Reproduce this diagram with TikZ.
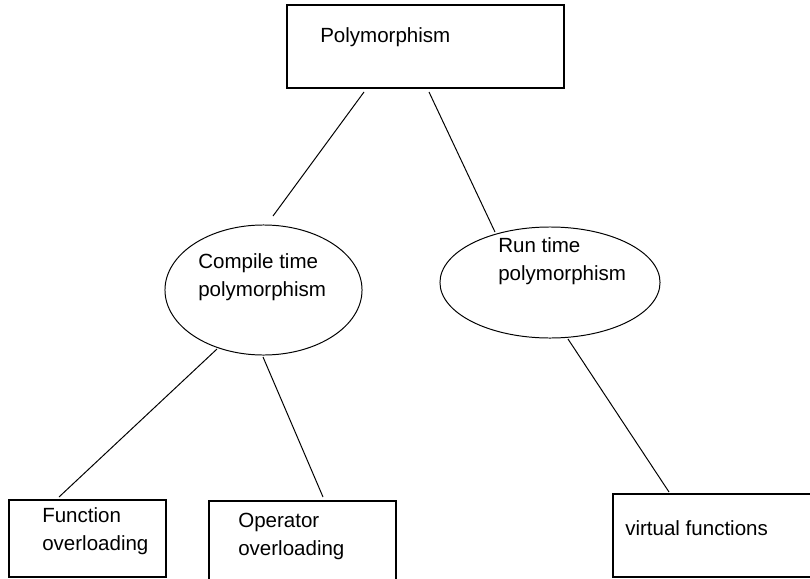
\documentclass[tikz,border=0pt]{standalone}
\usepackage{fontspec}
\setmainfont{Liberation Sans}
\usetikzlibrary{shapes.geometric}

\begin{document}
\begin{tikzpicture}[x=0.025cm, y=-0.025cm,
        box/.style={draw, line width=0.8pt, inner sep=0},
        oval/.style={draw, ellipse, line width=0.7pt, inner sep=0},
        lbl/.style={anchor=west, inner sep=0, align=left, font=\fontsize{14.6}{19.9}\selectfont},
        link/.style={line width=0.7pt}]
        \useasboundingbox (0,0) rectangle (810,579);
        \clip (0,0) rectangle (810,579);

        \node[box, minimum width=6.925cm, minimum height=2.075cm] (Poly) at (425.5, 46.5) {};
        \node[lbl] (PolyText) at (320, 37) {Polymorphism};

        \node[oval, minimum width=4.925cm, minimum height=3.25cm] (Comp) at (263.5, 290) {};
        \node[lbl] (CompText) at (198, 277.5) {Compile time\\polymorphism};
        \node[oval, minimum width=5.5cm, minimum height=2.775cm] (Run) at (550, 282.5) {};
        \node[lbl] (RunText) at (498, 261) {Run time\\polymorphism};

        \node[box, minimum width=3.925cm, minimum height=1.925cm] (Func) at (87.5, 538.5) {};
        \node[lbl] (FuncText) at (42, 531) {Function\\overloading};
        \node[box, minimum width=4.675cm, minimum height=2.1cm] (Oper) at (302.5, 543) {};
        \node[lbl] (OperText) at (238, 536) {Operator\\overloading};
        \node[box, minimum width=7.175cm, minimum height=2.075cm] (Virt) at (756.5, 535.5) {};
        \node[lbl] (VirtText) at (625, 528) {virtual functions};

        % loose ends of the links
        \coordinate (P1) at (364, 92);
        \coordinate (C1) at (273, 216);
        \coordinate (P2) at (429, 92);
        \coordinate (R1) at (495, 232);
        \coordinate (C2) at (217, 349);
        \coordinate (F1) at (59, 497);
        \coordinate (C3) at (263, 357);
        \coordinate (O1) at (323, 497);
        \coordinate (R2) at (568, 339);
        \coordinate (V1) at (669, 492);

        \draw[link] (P1) -- (C1);
        \draw[link] (P2) -- (R1);
        \draw[link] (C2) -- (F1);
        \draw[link] (C3) -- (O1);
        \draw[link] (R2) -- (V1);
    \end{tikzpicture}
\end{document}
